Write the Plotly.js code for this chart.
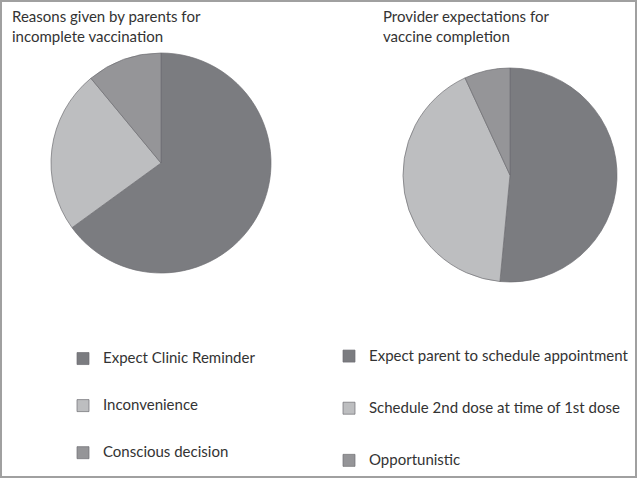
<!DOCTYPE html>
<html>
<head>
<meta charset="utf-8">
<script src="https://cdn.plot.ly/plotly-3.0.1.min.js"></script>
<style>html,body{margin:0;padding:0;background:#fff;}#chart{width:637px;height:478px;}</style>
</head>
<body>
<div id="chart"></div>
<script>
// Data
const parentLabels = ["Expect Clinic Reminder", "Inconvenience", "Conscious decision"];
const parentValues = [65, 24, 11];
const providerLabels = ["Expect parent to schedule appointment", "Schedule 2nd dose at time of 1st dose", "Opportunistic"];
const providerValues = [51.5, 41.6, 6.9];
const parentTitle = "Reasons given by parents for<br>incomplete vaccination";
const providerTitle = "Provider expectations for<br>vaccine completion";
const sliceColors = ["#7b7c80", "#bdbec0", "#959598"];

const W = 637, H = 478;
const FONT = "Lato, 'Open Sans', sans-serif";

// legend labels padded to create Excel-like vertical spacing
function padLabel(s, fs) {
  return "\u00a0<br><span style='font-size:" + fs + "px'>" + s + "</span><br>\u00a0";
}

const traces = [
  {
    type: "pie",
    labels: parentLabels.map(s => padLabel(s, 15)),
    values: parentValues,
    sort: false,
    direction: "clockwise",
    rotation: 0,
    textinfo: "none",
    hoverinfo: "label+percent",
    marker: {colors: sliceColors, line: {color: "#6e6e72", width: 0.7}},
    domain: {x: [51 / W, 271 / W], y: [(315 - 110) / H, (315 + 110) / H]},
    legend: "legend"
  },
  {
    type: "pie",
    labels: providerLabels.map(s => padLabel(s, 15)),
    values: providerValues,
    sort: false,
    direction: "clockwise",
    rotation: 0,
    textinfo: "none",
    hoverinfo: "label+percent",
    marker: {colors: sliceColors, line: {color: "#6e6e72", width: 0.7}},
    domain: {x: [403 / W, 617 / W], y: [(303 - 107) / H, (303 + 107) / H]},
    legend: "legend2"
  }
];

const layout = {
  width: W, height: H,
  margin: {l: 0, r: 0, t: 0, b: 0, autoexpand: false},
  paper_bgcolor: "#ffffff",
  font: {family: FONT, color: "#333333"},
  showlegend: true,
  legend: {
    x: 63 / W, y: 1 - 330 / H, xanchor: "left", yanchor: "top",
    font: {family: FONT, size: 11.3, color: "#333333"},
    bgcolor: "rgba(0,0,0,0)", valign: "middle", traceorder: "normal"
  },
  legend2: {
    x: 329 / W, y: 1 - 325 / H, xanchor: "left", yanchor: "top",
    font: {family: FONT, size: 12.6, color: "#333333"},
    bgcolor: "rgba(0,0,0,0)", valign: "middle", traceorder: "normal"
  },
  annotations: [
    {text: parentTitle, xref: "paper", yref: "paper", x: 10 / W, y: 1 - 5 / H,
     xanchor: "left", yanchor: "top", align: "left", showarrow: false,
     font: {family: FONT, size: 15, color: "#333333"}},
    {text: providerTitle, xref: "paper", yref: "paper", x: 381 / W, y: 1 - 5 / H,
     xanchor: "left", yanchor: "top", align: "left", showarrow: false,
     font: {family: FONT, size: 15, color: "#333333"}}
  ],
  shapes: [
    {type: "rect", xref: "paper", yref: "paper", x0: 1 / W, x1: 1 - 1 / W, y0: 1 / H, y1: 1 - 1 / H,
     line: {color: "#a0a0a0", width: 2}}
  ]
};

Plotly.newPlot("chart", traces, layout, {staticPlot: true, displayModeBar: false});
</script>
</body>
</html>
